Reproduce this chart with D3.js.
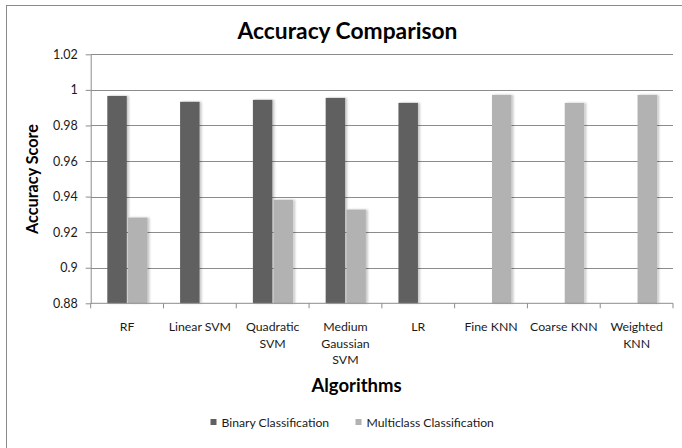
<!DOCTYPE html>
<html><head><meta charset="utf-8">
<script src="https://cdn.jsdelivr.net/npm/d3@7"></script>
<style>body{margin:0;background:#fff}svg{display:block}text{font-family:Lato,"Open Sans",sans-serif}</style>
</head><body><svg id="c" width="682" height="448"></svg>
<script>
const categories = [["RF"],["Linear SVM"],["Quadratic","SVM"],["Medium","Gaussian","SVM"],["LR"],["Fine KNN"],["Coarse KNN"],["Weighted","KNN"]];
const catKeys = ["RF","Linear SVM","Quadratic SVM","Medium Gaussian SVM","LR","Fine KNN","Coarse KNN","Weighted KNN"];
const binary = [0.9966, 0.9933, 0.9944, 0.9955, 0.9927, null, null, null];
const multiclass = [0.9282, null, 0.9382, 0.9327, null, 0.9972, 0.9927, 0.9972];
const seriesNames = ["Binary Classification","Multiclass Classification"];
const yTicks = [0.88,0.9,0.92,0.94,0.96,0.98,1,1.02];
const yTickLabels = ["0.88","0.9","0.92","0.94","0.96","0.98","1","1.02"];
const colors = ["#606060","#b2b2b2"];

const svg = d3.select("#c");
const defs = svg.append("defs");
const f = defs.append("filter").attr("id","sh").attr("x","-20%").attr("y","-5%").attr("width","160%").attr("height","110%");
f.append("feDropShadow").attr("dx",2).attr("dy",0).attr("stdDeviation",1).attr("flood-color","#000").attr("flood-opacity",0.22);

// outer border
svg.append("rect").attr("x",6.5).attr("y",5.5).attr("width",690).attr("height",460).attr("fill","none").attr("stroke","#8a8a8a").attr("stroke-width",1);

const L=90.7, R=673, T=54.3, B=303.3;
const x = d3.scaleBand().domain(catKeys).range([L,R]);
const y = d3.scaleLinear().domain([0.88,1.02]).range([B,T]);
const sub = d3.scaleBand().domain([0,1]).range([16.6,56.8]).paddingInner(0.06);

// gridlines
svg.append("g").selectAll("line").data(yTicks.slice(1)).join("line")
  .attr("x1",L).attr("x2",R).attr("y1",d=>Math.round(y(d))+0.5).attr("y2",d=>Math.round(y(d))+0.5)
  .attr("stroke","#8c8c8c").attr("stroke-width",1);

// bars
const series=[binary,multiclass];
series.forEach((vals,si)=>{
  svg.append("g").selectAll("rect").data(vals.map((v,i)=>({v,k:catKeys[i]})).filter(d=>d.v!=null)).join("rect")
    .attr("x",d=>x(d.k)+sub(si)).attr("width",sub.bandwidth())
    .attr("y",d=>y(d.v)).attr("height",d=>B-y(d.v))
    .attr("fill",colors[si]).attr("filter","url(#sh)");
});

// y axis
const ya = d3.axisLeft(y).tickValues(yTicks).tickFormat((d,i)=>yTickLabels[i]).tickSize(5).tickSizeOuter(0);
const yg = svg.append("g").attr("transform",`translate(${L},0)`).call(ya);
yg.select(".domain").attr("stroke","#8c8c8c");
yg.selectAll(".tick line").attr("stroke","#8c8c8c");
yg.selectAll(".tick text").attr("x",-13).attr("font-size",12.5).attr("fill","#1a1a1a").attr("font-family","Lato,sans-serif");

// x axis
const xa = d3.axisBottom(x).tickSize(0).tickFormat("");
const xg = svg.append("g").attr("transform",`translate(0,${B})`).call(xa);
xg.select(".domain").attr("stroke","#8c8c8c").attr("d",`M${L},0H${R}`);
xg.selectAll(".xt").data(d3.range(catKeys.length+1)).join("line").attr("class","xt")
  .attr("x1",i=>L+i*x.step()).attr("x2",i=>L+i*x.step()).attr("y1",0).attr("y2",5).attr("stroke","#8c8c8c");

// category labels
const cl = svg.append("g");
categories.forEach((lines,i)=>{
  const t = cl.append("text").attr("x",x(catKeys[i])+x.bandwidth()/2).attr("y",331)
    .attr("text-anchor","middle").attr("font-size",12.3).attr("fill","#1a1a1a");
  lines.forEach((ln,j)=>t.append("tspan").attr("x",x(catKeys[i])+x.bandwidth()/2).attr("dy",j?16.5:0).text(ln));
});

// titles
svg.append("text").attr("x",347.5).attr("y",39).attr("text-anchor","middle").attr("font-size",22.8).attr("font-weight","bold").attr("fill","#000").text("Accuracy Comparison");
svg.append("text").attr("transform","translate(38,179) rotate(-90)").attr("text-anchor","middle").attr("font-size",16.2).attr("font-weight","bold").attr("fill","#000").text("Accuracy Score");
svg.append("text").attr("x",356.5).attr("y",392).attr("text-anchor","middle").attr("font-size",18.5).attr("font-weight","bold").attr("fill","#000").text("Algorithms");

// legend
const lg = svg.append("g");
const legX=[210.5,355.5];
seriesNames.forEach((n,i)=>{
  lg.append("rect").attr("x",legX[i]).attr("y",419).attr("width",6).attr("height",6).attr("fill",colors[i]);
  lg.append("text").attr("x",legX[i]+11).attr("y",427).attr("font-size",12.2).attr("fill","#1a1a1a").text(n);
});
</script></body></html>
